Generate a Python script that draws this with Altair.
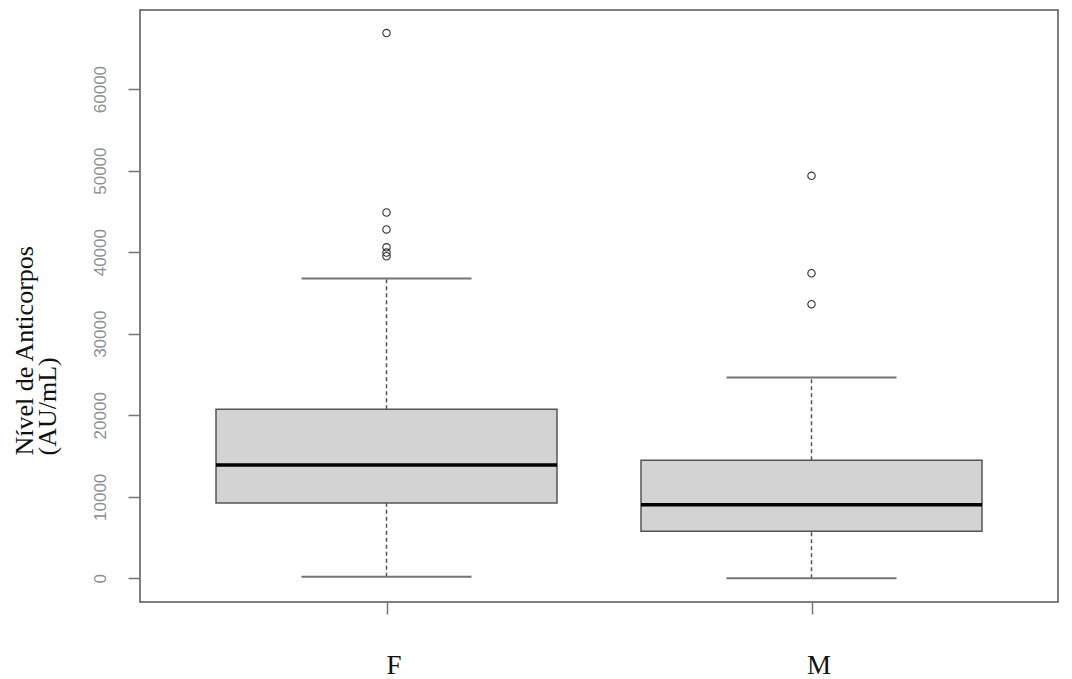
import altair as alt
import pandas as pd

# ---- data ----
groups = ["F", "M"]
whisker_low = [200, 0]
q1 = [9240, 5770]
median = [13900, 9040]
q3 = [20740, 14480]
whisker_high = [36770, 24630]

outlier_group = ["F", "F", "F", "F", "F", "F", "M", "M", "M"]
outlier_value = [66870, 44870, 42790, 40600, 39950, 39500, 49360, 37420, 33620]

y_ticks = [0, 10000, 20000, 30000, 40000, 50000, 60000]

stats = pd.DataFrame({
    "grupo": groups,
    "lo": whisker_low,
    "q1": q1,
    "med": median,
    "q3": q3,
    "hi": whisker_high,
})
outliers = pd.DataFrame({"grupo": outlier_group, "valor": outlier_value})

xscale = alt.Scale(type="point", domain=groups, padding=0.58)
yscale = alt.Scale(domain=[-2900, 69700], nice=False, zero=False)

x_enc = alt.X(
    "grupo:N",
    scale=xscale,
    axis=alt.Axis(
        title=None,
        domain=False,
        labelAngle=0,
        labelFont="Liberation Serif",
        labelFontSize=27,
        labelColor="#111111",
        labelBaseline="alphabetic",
        labelPadding=59,
        labelOffset=7,
        tickSize=12,
        tickColor="#777777",
        tickWidth=1.5,
        grid=False,
    ),
)

y_axis = alt.Axis(
    title=["Nível de Anticorpos", "(AU/mL)"],
    titleFont="Liberation Serif",
    titleFontSize=26,
    titleFontWeight="normal",
    titleColor="#111111",
    titleAngle=270,
    titleAlign="left",
    titleBaseline="alphabetic",
    titleLineHeight=23,
    titleX=-108,
    titleY=445,
    values=y_ticks,
    format="d",
    labelAngle=270,
    labelAlign="center",
    labelBaseline="bottom",
    labelFont="Liberation Sans",
    labelFontSize=17,
    labelColor="#8f8f8f",
    labelPadding=19,
    domain=False,
    grid=False,
    tickSize=12,
    tickColor="#777777",
    tickWidth=1.5,
)

base = alt.Chart(stats)

whisk_low = base.mark_rule(color="#555555", strokeWidth=1.5, strokeDash=[4, 3]).encode(
    x=x_enc,
    y=alt.Y("lo:Q", scale=yscale, axis=y_axis),
    y2="q1:Q",
)
whisk_high = base.mark_rule(color="#555555", strokeWidth=1.5, strokeDash=[4, 3]).encode(
    x=x_enc,
    y=alt.Y("q3:Q", scale=yscale),
    y2="hi:Q",
)
cap_low = base.mark_tick(color="#747474", size=170, thickness=2, opacity=1).encode(
    x=x_enc, y=alt.Y("lo:Q", scale=yscale)
)
cap_high = base.mark_tick(color="#747474", size=170, thickness=2, opacity=1).encode(
    x=x_enc, y=alt.Y("hi:Q", scale=yscale)
)
box = base.mark_bar(size=341, color="#d3d3d3", stroke="#555555", strokeWidth=1.5, opacity=1).encode(
    x=x_enc,
    y=alt.Y("q1:Q", scale=yscale),
    y2="q3:Q",
)
med = base.mark_tick(color="#000000", size=341, thickness=3.5, opacity=1).encode(
    x=x_enc, y=alt.Y("med:Q", scale=yscale)
)
pts = alt.Chart(outliers).mark_point(
    shape="circle", filled=False, size=55, color="#333333", strokeWidth=1.1, opacity=1
).encode(
    x=x_enc,
    y=alt.Y("valor:Q", scale=yscale),
)

chart = (
    alt.layer(whisk_low, whisk_high, cap_low, cap_high, box, med, pts)
    .properties(
        width=918,
        height=592,
        autosize=alt.AutoSizeParams(type="none"),
        padding={"left": 132, "top": 2, "right": 5, "bottom": 77},
        background="white",
    )
    .configure_view(stroke="#555555", strokeWidth=1.5)
)

chart.save("out.html", embed_options={"renderer": "svg", "actions": False})
